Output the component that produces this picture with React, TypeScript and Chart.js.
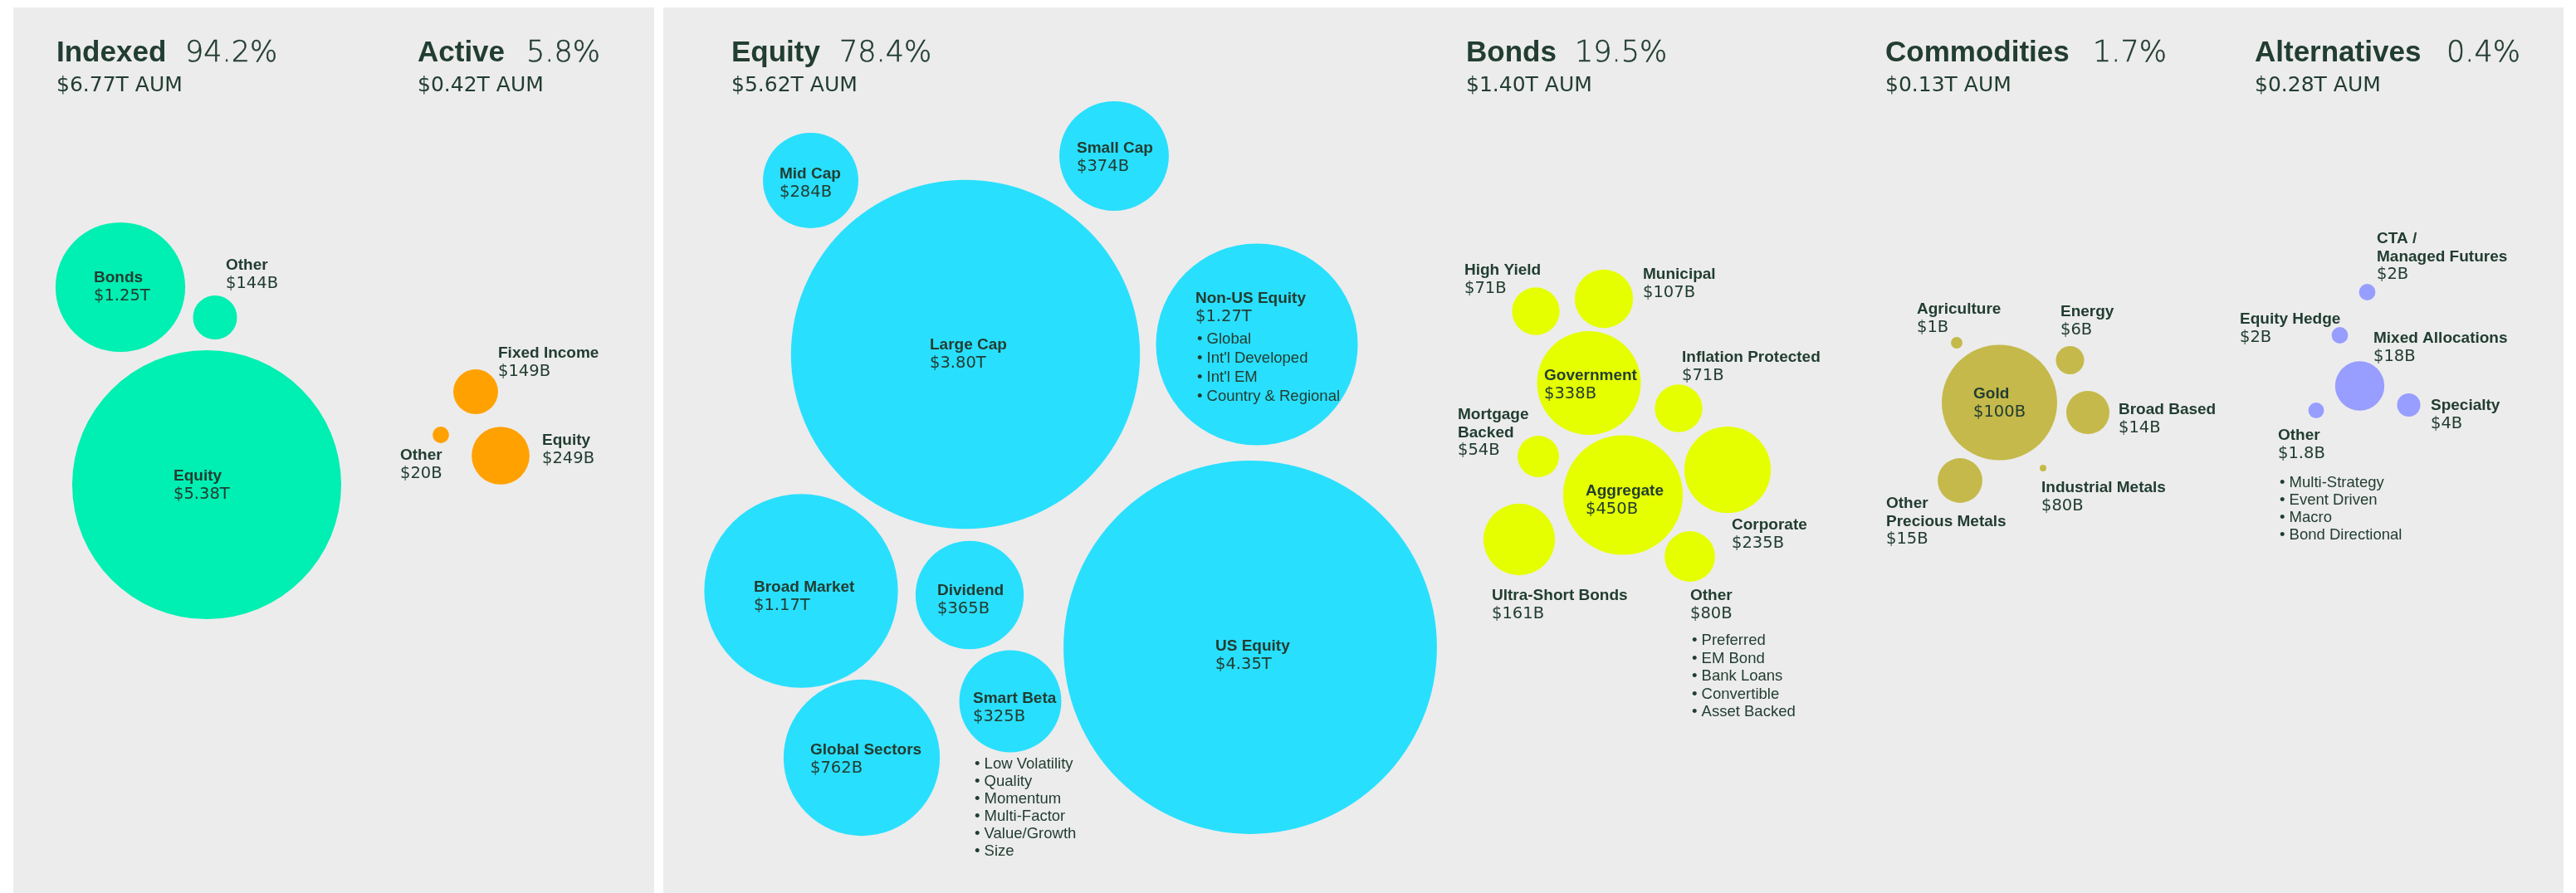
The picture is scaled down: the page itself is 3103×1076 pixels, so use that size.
import React, { useEffect, useRef } from "react";
import { Chart, registerables } from "chart.js";

Chart.register(...registerables);

const W = 3103;
const H = 1076;

// ---------- Panel headers ----------
const headerNames = ["Indexed", "Active", "Equity", "Bonds", "Commodities", "Alternatives"];
const headerPcts = ["94.2%", "5.8%", "78.4%", "19.5%", "1.7%", "0.4%"];
const headerAums = ["$6.77T AUM", "$0.42T AUM", "$5.62T AUM", "$1.40T AUM", "$0.13T AUM", "$0.28T AUM"];
const headerX = [68, 503, 881, 1766, 2271, 2716];
const headerPctX = [223, 634, 1011, 1897, 2521, 2947];

// ---------- Indexed ----------
const indexedNames = ["Bonds", "Other", "Equity"];
const indexedValues = ["$1.25T", "$144B", "$5.38T"];
const indexedAumB = [1250, 144, 5380];
const indexedX = [145, 259, 249];
const indexedY = [346, 382.5, 584];
const indexedLabelX = [113, 272, 209];
const indexedLabelY = [340, 325, 579];

// ---------- Active ----------
const activeNames = ["Fixed Income", "Other", "Equity"];
const activeValues = ["$149B", "$20B", "$249B"];
const activeAumB = [149, 20, 249];
const activeX = [573, 531, 603];
const activeY = [472, 524, 549];
const activeLabelX = [600, 482, 653];
const activeLabelY = [431, 554, 536];

// ---------- Equity ----------
const equityNames = ["Mid Cap", "Small Cap", "Large Cap", "Non-US Equity", "Broad Market", "Dividend", "US Equity", "Smart Beta", "Global Sectors"];
const equityValues = ["$284B", "$374B", "$3.80T", "$1.27T", "$1.17T", "$365B", "$4.35T", "$325B", "$762B"];
const equityAumB = [284, 374, 3800, 1270, 1170, 365, 4350, 325, 762];
const equityX = [976.5, 1342, 1163, 1514, 965, 1168, 1506, 1217, 1038];
const equityY = [217.5, 188, 427, 415, 712, 717, 780, 845, 913];
const equityLabelX = [939, 1297, 1120, 1440, 908, 1129, 1464, 1172, 976];
const equityLabelY = [215, 184, 421, 365, 713, 717, 784, 847, 909];
const nonUsBullets = ["Global", "Int'l Developed", "Int'l EM", "Country & Regional"];
const smartBetaBullets = ["Low Volatility", "Quality", "Momentum", "Multi-Factor", "Value/Growth", "Size"];

// ---------- Bonds ----------
const bondNames = ["High Yield", "Municipal", "Government", "Inflation Protected", "Mortgage\nBacked", "Aggregate", "Corporate", "Ultra-Short Bonds", "Other"];
const bondValues = ["$71B", "$107B", "$338B", "$71B", "$54B", "$450B", "$235B", "$161B", "$80B"];
const bondAumB = [71, 107, 338, 71, 54, 450, 235, 161, 80];
const bondX = [1850, 1932, 1914, 2022, 1853, 1955, 2081, 1830, 2035.5];
const bondY = [375, 360, 461.5, 492, 550, 596.5, 566, 650, 670.5];
const bondLabelX = [1764, 1979, 1860, 2026, 1756, 1910, 2086, 1797, 2036];
const bondLabelY = [331, 336, 458, 436, 505, 597, 638, 723, 723];
const bondOtherBullets = ["Preferred", "EM Bond", "Bank Loans", "Convertible", "Asset Backed"];

// ---------- Commodities ----------
const commodityNames = ["Agriculture", "Energy", "Gold", "Broad Based", "Other\nPrecious Metals", "Industrial Metals"];
const commodityValues = ["$1B", "$6B", "$100B", "$14B", "$15B", "$80B"];
// bubble areas as drawn in the source (Industrial Metals is drawn as a tiny dot)
const commoditySizeB = [1, 6, 100, 14, 15, 0.33];
const commodityX = [2357, 2493.5, 2408.5, 2515, 2361, 2461];
const commodityY = [413, 434, 485, 497, 579, 564];
const commodityLabelX = [2309, 2482, 2377, 2552, 2272, 2459];
const commodityLabelY = [378, 381, 480, 499, 612, 593];

// ---------- Alternatives ----------
const altNames = ["CTA /\nManaged Futures", "Equity Hedge", "Mixed Allocations", "Specialty", "Other"];
const altValues = ["$2B", "$2B", "$18B", "$4B", "$1.8B"];
const altAumB = [2, 2, 18, 4, 1.8];
const altX = [2851.5, 2818.5, 2842.5, 2901.5, 2790];
const altY = [352, 404, 465, 488, 494.5];
const altLabelX = [2863, 2698, 2859, 2928, 2744];
const altLabelY = [293, 390, 413, 494, 530];
const altOtherBullets = ["Multi-Strategy", "Event Driven", "Macro", "Bond Directional"];

// ---------- Styles ----------
const TEXT = "#223d31";
const PANEL = "#ececec";
const NAME_FONT = "bold 19px 'Liberation Sans', Arial, sans-serif";
const VALUE_FONT = "19.5px 'DejaVu Sans', sans-serif";
const BULLET_FONT = "18.5px 'Liberation Sans', Arial, sans-serif";
const TITLE_FONT = "bold 35px 'Liberation Sans', Arial, sans-serif";
const PCT_FONT = "200 35px 'DejaVu Sans', sans-serif";
const AUM_FONT = "25px 'DejaVu Sans', sans-serif";
const LINE = 21.5;

type Bullets = { index: number; items: string[]; y: number; step: number };
type Group = {
  color: string;
  k: number;
  names: string[];
  values: string[];
  sizes: number[];
  xs: number[];
  ys: number[];
  lx: number[];
  ly: number[];
  bullets: Bullets[];
};

const groups: Group[] = [
  { color: "#00efb2", k: 2.209, names: indexedNames, values: indexedValues, sizes: indexedAumB, xs: indexedX, ys: indexedY, lx: indexedLabelX, ly: indexedLabelY, bullets: [] },
  { color: "#ffa100", k: 2.209, names: activeNames, values: activeValues, sizes: activeAumB, xs: activeX, ys: activeY, lx: activeLabelX, ly: activeLabelY, bullets: [] },
  {
    color: "#29dffe", k: 3.41, names: equityNames, values: equityValues, sizes: equityAumB, xs: equityX, ys: equityY, lx: equityLabelX, ly: equityLabelY,
    bullets: [
      { index: 3, items: nonUsBullets, y: 414, step: 23 },
      { index: 7, items: smartBetaBullets, y: 926, step: 21 },
    ],
  },
  {
    color: "#e5ff00", k: 3.4, names: bondNames, values: bondValues, sizes: bondAumB, xs: bondX, ys: bondY, lx: bondLabelX, ly: bondLabelY,
    bullets: [{ index: 8, items: bondOtherBullets, y: 777, step: 21.5 }],
  },
  { color: "#c5b94b", k: 6.95, names: commodityNames, values: commodityValues, sizes: commoditySizeB, xs: commodityX, ys: commodityY, lx: commodityLabelX, ly: commodityLabelY, bullets: [] },
  {
    color: "#979eff", k: 7.0, names: altNames, values: altValues, sizes: altAumB, xs: altX, ys: altY, lx: altLabelX, ly: altLabelY,
    bullets: [{ index: 4, items: altOtherBullets, y: 587, step: 21 }],
  },
];

const panelPlugin = {
  id: "panels",
  beforeDraw(chart: any) {
    const ctx = chart.ctx;
    ctx.save();
    ctx.fillStyle = "#ffffff";
    ctx.fillRect(0, 0, chart.width, chart.height);
    ctx.fillStyle = PANEL;
    ctx.fillRect(16, 9, 772, H - 9);
    ctx.fillRect(799, 9, 2289, H - 9);
    ctx.restore();
  },
};

const labelPlugin = {
  id: "bubbleLabels",
  afterDatasetsDraw(chart: any) {
    const ctx = chart.ctx;
    const sx = chart.scales.x;
    const sy = chart.scales.y;
    ctx.save();
    ctx.fillStyle = TEXT;
    ctx.strokeStyle = TEXT;
    ctx.textAlign = "left";
    ctx.textBaseline = "alphabetic";

    // headers
    headerNames.forEach((n, i) => {
      const x = sx.getPixelForValue(headerX[i]);
      const y = sy.getPixelForValue(74);
      ctx.font = TITLE_FONT;
      ctx.fillText(n, x, y);
      ctx.font = PCT_FONT;
      const px = sx.getPixelForValue(headerPctX[i]);
      ctx.fillText(headerPcts[i], px, y);
      ctx.lineWidth = 0.5;
      ctx.strokeText(headerPcts[i], px, y);
      ctx.font = AUM_FONT;
      ctx.fillText(headerAums[i], x, sy.getPixelForValue(110));
    });

    // bubble labels
    groups.forEach((g) => {
      g.names.forEach((name, i) => {
        const px = sx.getPixelForValue(g.lx[i]);
        let yv = g.ly[i];
        ctx.font = NAME_FONT;
        name.split("\n").forEach((line) => {
          ctx.fillText(line, px, sy.getPixelForValue(yv));
          yv += LINE;
        });
        ctx.font = VALUE_FONT;
        ctx.fillText(g.values[i], px, sy.getPixelForValue(yv));
      });
      g.bullets.forEach((b) => {
        const px = sx.getPixelForValue(g.lx[b.index] + 2);
        ctx.font = BULLET_FONT;
        b.items.forEach((t, j) => {
          ctx.fillText("\u2022 " + t, px, sy.getPixelForValue(b.y + j * b.step));
        });
      });
    });
    ctx.restore();
  },
};

export default function App() {
  const ref = useRef<HTMLCanvasElement | null>(null);
  useEffect(() => {
    if (!ref.current) return;
    const datasets = groups.map((g) => ({
      data: g.xs.map((x, i) => ({ x, y: g.ys[i], r: g.k * Math.sqrt(g.sizes[i]) })),
      backgroundColor: g.color,
      borderWidth: 0,
      hoverBorderWidth: 0,
    }));
    const chart = new Chart(ref.current, {
      type: "bubble",
      data: { datasets },
      options: {
        animation: false,
        responsive: false,
        devicePixelRatio: 1,
        events: [],
        layout: { padding: 0, autoPadding: false },
        clip: false as any,
        plugins: { legend: { display: false }, tooltip: { enabled: false } },
        scales: {
          x: { type: "linear", min: 0, max: W, display: false },
          y: { type: "linear", min: 0, max: H, reverse: true, display: false },
        },
      },
      plugins: [panelPlugin, labelPlugin],
    });
    return () => chart.destroy();
  }, []);
  return (
    <canvas
      ref={ref}
      width={W}
      height={H}
      style={{ position: "fixed", left: 0, top: 0, width: W, height: H, display: "block" }}
    />
  );
}
